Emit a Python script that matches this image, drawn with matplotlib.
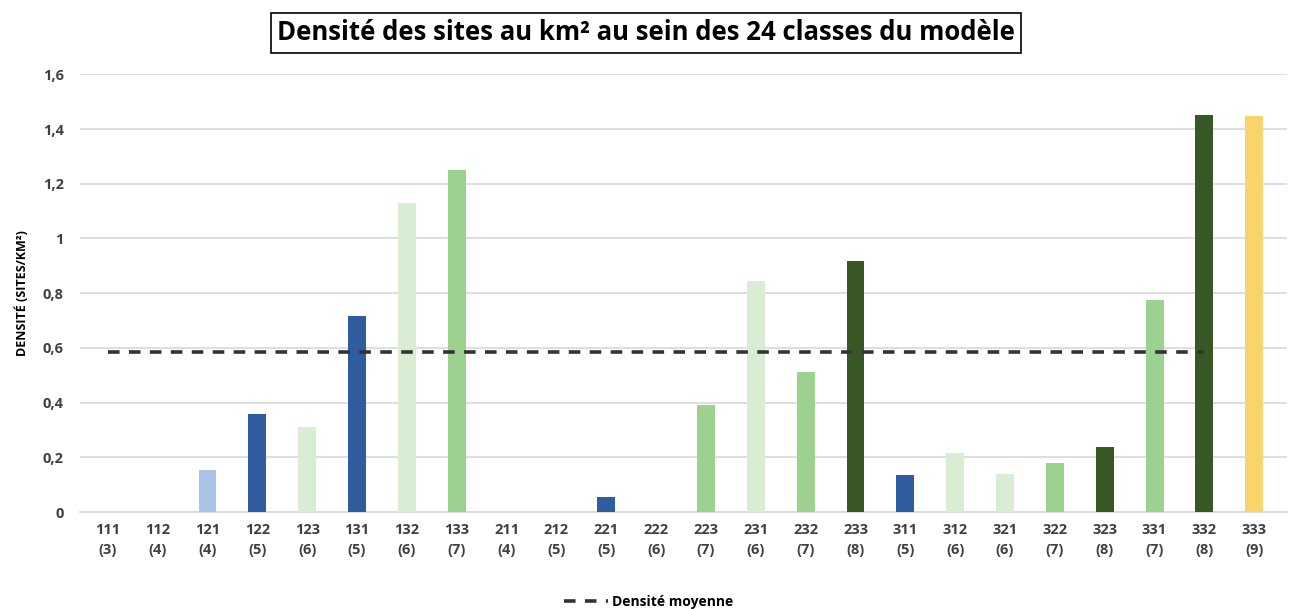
import matplotlib
matplotlib.use('Agg')
import matplotlib.pyplot as plt
from matplotlib.lines import Line2D

# classes du modele et leur score
classes = ['111', '112', '121', '122', '123', '131', '132', '133', '211', '212', '221', '222',
           '223', '231', '232', '233', '311', '312', '321', '322', '323', '331', '332', '333']
scores = ['3', '4', '4', '5', '6', '5', '6', '7', '4', '5', '5', '6',
          '7', '6', '7', '8', '5', '6', '6', '7', '8', '7', '8', '9']
densite = [0, 0, 0.153, 0.358, 0.31, 0.716, 1.129, 1.249, 0, 0, 0.055, 0,
           0.39, 0.844, 0.511, 0.917, 0.135, 0.215, 0.139, 0.179, 0.237, 0.774, 1.45, 1.447]
couleurs = ['#a9c4e4', '#a9c4e4', '#a9c4e4', '#2e5c9e', '#d9ecd4', '#2e5c9e', '#d9ecd4', '#9dd18f',
            '#a9c4e4', '#a9c4e4', '#2e5c9e', '#d9ecd4', '#9dd18f', '#d9ecd4', '#9dd18f', '#375724',
            '#2e5c9e', '#d9ecd4', '#d9ecd4', '#9dd18f', '#375724', '#9dd18f', '#375724', '#f9d46a']
moyenne = 0.584

plt.rcParams['font.family'] = ['Open Sans', 'DejaVu Sans']

fig = plt.figure(figsize=(12.97, 6.09), dpi=100)
ax = fig.add_axes([0.062, 0.159, 0.930, 0.719])

x = list(range(len(classes)))
ax.bar(x, densite, width=0.36, color=couleurs, zorder=3)
# ligne de densite moyenne (s'arrete a la classe 332)
ax.plot([0, len(classes) - 2], [moyenne, moyenne], color='#333333', lw=2.6,
        dashes=(3.2, 2.6), zorder=4)

ax.set_ylim(0, 1.6)
ax.set_xlim(-0.55, 23.65)
yt = [0, 0.2, 0.4, 0.6, 0.8, 1.0, 1.2, 1.4, 1.6]
ax.set_yticks(yt)
ax.set_yticklabels([('%g' % v).replace('.', ',') for v in yt], fontsize=10.5,
                   fontweight='bold', color='#404040')
ax.set_xticks(x)
ax.set_xticklabels([c + '\n(' + s + ')' for c, s in zip(classes, scores)], fontsize=10.5,
                   fontweight='bold', color='#404040', linespacing=1.5)
ax.tick_params(axis='x', length=0, pad=8)
ax.tick_params(axis='y', length=0, pad=12)
ax.grid(axis='y', color='#d9d9d9', lw=1.2, zorder=0)
for s in ['top', 'right', 'left']:
    ax.spines[s].set_visible(False)
ax.spines['bottom'].set_color('#d9d9d9')
ax.spines['bottom'].set_linewidth(1.2)

ax.set_ylabel('DENSITÉ (SITES/KM²)', fontsize=9, fontweight='bold', color='black', labelpad=10)

fig.text(0.498, 0.946, 'Densité des sites au km² au sein des 24 classes du modèle', ha='center',
         va='center', fontsize=18.5, fontweight='bold', color='black',
         bbox=dict(boxstyle='square,pad=0.25', fc='white', ec='black', lw=1.2))

leg = [Line2D([0], [0], color='#333333', lw=2.6, dashes=(3.2, 2.6))]
fig.legend(leg, ['Densité moyenne'], loc='center', bbox_to_anchor=(0.5, 0.012), frameon=False,
           handlelength=3.2, handletextpad=0.3,
           prop={'weight': 'bold', 'size': 10})

fig.savefig('out.png', dpi=100)
